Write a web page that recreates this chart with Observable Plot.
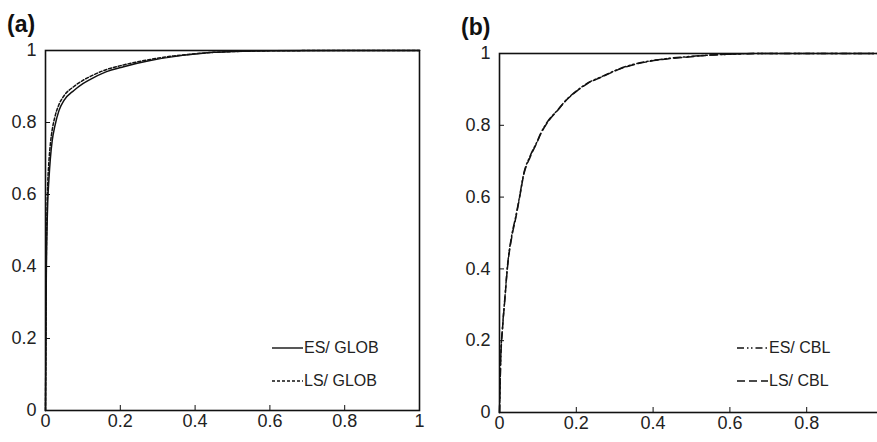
<!DOCTYPE html>
<html>
<head>
<meta charset="utf-8">
<script src="https://cdn.jsdelivr.net/npm/d3@7"></script>
<script src="https://cdn.jsdelivr.net/npm/@observablehq/plot@0.6"></script>
<style>
  html, body { margin: 0; padding: 0; background: #fff; }
  #wrap { position: relative; width: 877px; height: 442px; overflow: hidden; background: #fff;
          font-family: "Liberation Sans", Arial, sans-serif; color: #111; }
  .panel { position: absolute; top: 0; }
  .panel svg { max-width: none !important; }
  .tag { position: absolute; font-weight: bold; font-size: 23px; line-height: 1; }
  .leg { position: absolute; display: flex; align-items: center; font-size: 16px; height: 20px; color: #222; }
  .leg svg { display: block; }
</style>
</head>
<body>
<div id="wrap"></div>
<script>
// ---------- data ----------
const xTicksA = [0, 0.2, 0.4, 0.6, 0.8, 1];
const xTicksB = [0, 0.2, 0.4, 0.6, 0.8];
const yTicks = [0, 0.2, 0.4, 0.6, 0.8, 1];

// Panel (a)
const xGlob   = [0, 0.001, 0.002, 0.004, 0.006, 0.009, 0.013, 0.018, 0.025, 0.036, 0.05, 0.076, 0.1, 0.12, 0.16, 0.209, 0.28, 0.343, 0.4, 0.45, 0.5, 0.6, 0.8, 1];
const esGlob  = [0, 0.15, 0.35, 0.5, 0.58, 0.64, 0.7, 0.75, 0.79, 0.833, 0.862, 0.889, 0.908, 0.92, 0.94, 0.955, 0.972, 0.983, 0.99, 0.995, 0.997, 0.999, 1, 1];
const lsGlob  = [0, 0.18, 0.4, 0.55, 0.63, 0.69, 0.74, 0.78, 0.815, 0.85, 0.875, 0.9, 0.917, 0.928, 0.946, 0.96, 0.975, 0.985, 0.991, 0.995, 0.997, 0.999, 1, 1];

// Panel (b)
const xCbl    = [0, 0.001, 0.003, 0.008, 0.014, 0.02, 0.033, 0.042, 0.052, 0.063, 0.08, 0.098, 0.107, 0.125, 0.15, 0.175, 0.202, 0.23, 0.263, 0.3, 0.333, 0.38, 0.437, 0.5, 0.54, 0.6, 0.7, 0.8, 0.9, 1];
const esCbl   = [0, 0.05, 0.145, 0.24, 0.32, 0.4, 0.5, 0.544, 0.6, 0.665, 0.715, 0.755, 0.777, 0.81, 0.841, 0.872, 0.897, 0.918, 0.934, 0.952, 0.965, 0.977, 0.986, 0.992, 0.995, 0.998, 1, 1, 1, 1];
const lsCbl   = [0, 0.05, 0.14, 0.235, 0.315, 0.395, 0.495, 0.54, 0.597, 0.662, 0.712, 0.753, 0.775, 0.808, 0.84, 0.871, 0.896, 0.917, 0.933, 0.951, 0.964, 0.976, 0.985, 0.991, 0.995, 0.998, 1, 1, 1, 1];

const legendA = [{label: "ES/ GLOB", dash: null}, {label: "LS/ GLOB", dash: "3,2"}];
const legendB = [{label: "ES/ CBL", dash: "7,3,1.5,2.5,1.5,3"}, {label: "LS/ CBL", dash: "8,4"}];

// ---------- helpers ----------
const ink = "#111";
const fmt = d => String(d);
const toRows = (xs, ys) => xs.map((x, i) => ({x, y: ys[i]}));
const FONT = "'Liberation Sans', Arial, sans-serif";

function panel(opts) {
  return Plot.plot({
    width: opts.width,
    height: 442,
    marginLeft: opts.marginLeft,
    marginRight: opts.marginRight,
    marginTop: opts.marginTop,
    marginBottom: opts.marginBottom,
    style: {fontFamily: FONT, background: "white"},
    x: {domain: [0, 1]},
    y: {domain: [0, 1]},
    marks: [
      Plot.frame({stroke: ink, strokeWidth: 1.6}),
      // inward tick marks
      Plot.axisX({ticks: opts.xTicks, tickFormat: () => "", tickSize: -5, label: null, stroke: ink}),
      Plot.axisY({ticks: yTicks, tickFormat: () => "", tickSize: -5, label: null, stroke: ink}),
      // tick labels
      Plot.text(opts.xTicks, {x: d => d, frameAnchor: "bottom", dy: 4, lineAnchor: "top", text: fmt,
        fontSize: 18, fontFamily: FONT, fill: "#222"}),
      Plot.text(yTicks, {y: d => d, frameAnchor: "left", dx: -9, textAnchor: "end", text: fmt,
        fontSize: 18, fontFamily: FONT, fill: "#222"}),
      ...opts.lines.map(l => Plot.line(l.data, {x: "x", y: "y", stroke: ink, strokeWidth: 1.5, strokeDasharray: l.dash, curve: "monotone-x"}))
    ]
  });
}

const wrap = document.getElementById("wrap");

function place(node, left, width) {
  const d = document.createElement("div");
  d.className = "panel";
  d.style.left = left + "px";
  d.style.width = width + "px";
  d.appendChild(node);
  wrap.appendChild(d);
}

// Panel (a)
place(panel({
  width: 440, marginLeft: 45, marginRight: 21, marginTop: 50, marginBottom: 32,
  xTicks: xTicksA,
  lines: [
    {data: toRows(xGlob, esGlob), dash: null},
    {data: toRows(xGlob, lsGlob), dash: "3,2"}
  ]
}), 0, 440);

// Panel (b) — right edge falls outside the picture
place(panel({
  width: 443, marginLeft: 59, marginRight: 0, marginTop: 53, marginBottom: 30,
  xTicks: xTicksB,
  lines: [
    {data: toRows(xCbl, esCbl), dash: "7,3,1.5,2.5,1.5,3"},
    {data: toRows(xCbl, lsCbl), dash: "8,4"}
  ]
}), 440, 443);

// Tags
function tag(text, left, top) {
  const t = document.createElement("div");
  t.className = "tag"; t.textContent = text;
  t.style.left = left + "px"; t.style.top = top + "px";
  wrap.appendChild(t);
}
tag("(a)", 7, 13);
tag("(b)", 461, 16);

// Legends
function legend(items, left, tops) {
  items.forEach((it, i) => {
    const row = document.createElement("div");
    row.className = "leg";
    row.style.left = left + "px";
    row.style.top = (tops[i] - 10) + "px";
    const s = d3.create("svg").attr("width", 31).attr("height", 20);
    s.append("line").attr("x1", 0).attr("x2", 31).attr("y1", 10).attr("y2", 10)
      .attr("stroke", ink).attr("stroke-width", 1.4)
      .attr("stroke-dasharray", it.dash);
    row.appendChild(s.node());
    const sp = document.createElement("span");
    sp.textContent = it.label;
    sp.style.marginLeft = "1px";
    row.appendChild(sp);
    wrap.appendChild(row);
  });
}
legend(legendA, 272, [348, 381]);
legend(legendB, 737, [348, 381]);
</script>
</body>
</html>
